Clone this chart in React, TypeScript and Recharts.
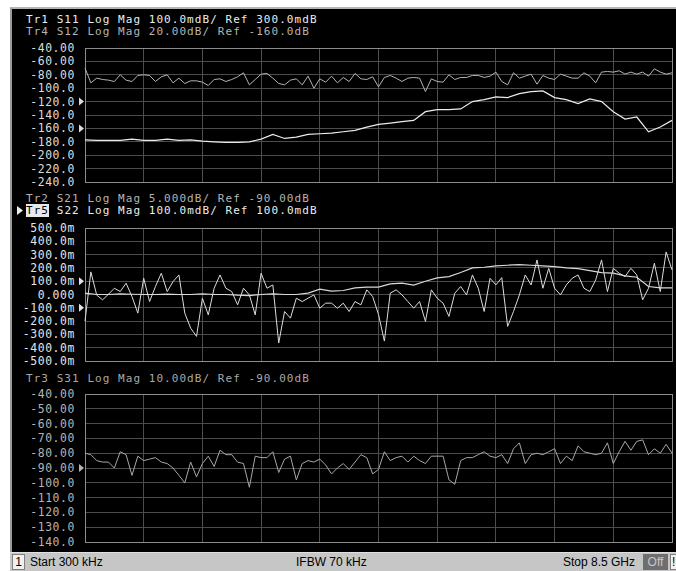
import { CartesianGrid, Line, LineChart, ReferenceArea, XAxis, YAxis } from "recharts";

const MONO = '"DejaVu Sans Mono", monospace';
const SANS = '"Liberation Sans", Arial, sans-serif';

// x axis: sweep points as percent of span (Start 300 kHz .. Stop 8.5 GHz)
const X_TICKS = [0, 10, 20, 30, 40, 50, 60, 70, 80, 90, 100];

// panel 1 (Tr1 S11 / Tr4 S12)
const P1_TICKS = [-40, -60, -80, -100, -120, -140, -160, -180, -200, -220, -240];
const P1_REFS = [-120, -160];
const tr1 = [
  -177, -178, -178, -178, -176, -178, -178, -176, -178, -177,
  -179, -180, -181, -181, -180, -176, -169, -175, -173, -169,
  -168, -167, -165, -163, -158, -154, -152, -150, -148, -135,
  -132, -132, -131, -120, -117, -113, -114, -108, -105, -104,
  -114, -117, -123, -116, -120, -135, -146, -143, -165, -158, -148,
];
const tr4 = [
  -70, -92, -85, -87, -88, -90, -80, -88, -90, -81,
  -80, -81, -90, -83, -80, -92, -85, -93, -89, -89,
  -91, -96, -87, -86, -90, -87, -83, -77, -95, -87,
  -79, -78, -85, -93, -95, -88, -86, -95, -82, -100,
  -86, -91, -82, -92, -84, -90, -78, -86, -87, -83,
  -98, -84, -81, -85, -90, -85, -84, -85, -105, -86,
  -90, -91, -80, -87, -84, -84, -81, -81, -84, -82,
  -76, -90, -95, -77, -85, -82, -79, -94, -81, -85,
  -87, -79, -82, -85, -85, -77, -82, -92, -76, -75,
  -76, -74, -79, -76, -79, -76, -82, -71, -76, -79, -77,
];

// panel 2 (Tr2 S21 / Tr5 S22), values in milli-dB
const P2_TICKS = [500, 400, 300, 200, 100, 0, -100, -200, -300, -400, -500];
const P2_REFS = [100, -100];
const tr2 = [
  10, 0, 0, 5, 2, 0, 0, 3, 0, 0,
  5, 0, 0, -5, -8, 0, 5, 0, 0, 10,
  40, 25, 30, 50, 55, 55, 80, 85, 70, 100,
  125, 135, 165, 200, 205, 215, 220, 225, 220, 215,
  210, 200, 195, 180, 165, 160, 140, 130, 60, 50, 50,
];
const tr5 = [
  -200, 170, -5, -40, 2, 47, 22, 85, -15, -140,
  122, -53, 60, 160, 22, 97, 147, -140, -253, -315,
  -28, -153, 47, 147, 47, 22, -78, 47, -3, -153,
  160, 47, 72, -365, -128, -178, -28, -53, -28, -3,
  -103, -65, -65, -103, -65, -128, -53, -78, 35, -15,
  -150, -350, 10, 35, -3, -53, -103, -53, -203, 35,
  -28, -65, -165, 10, 60, -3, 147, 47, -128, 122,
  72, 127, -240, -128, -3, 147, 72, 260, 47, 197,
  47, -3, 72, 122, 147, 47, 22, 110, 260, 22,
  197, 160, 135, 197, 147, -40, 47, 235, 22, 320, 185,
];

// panel 3 (Tr3 S31)
const P3_TICKS = [-40, -50, -60, -70, -80, -90, -100, -110, -120, -130, -140];
const P3_REFS = [-90];
const tr3 = [
  -80, -81, -85, -86, -86, -90, -79, -81, -95, -82,
  -85, -84, -83, -86, -87, -90, -95, -100, -86, -96,
  -87, -82, -89, -78, -81, -81, -86, -87, -103, -82,
  -83, -83, -79, -93, -84, -82, -98, -87, -85, -86,
  -84, -88, -94, -90, -87, -91, -86, -81, -83, -94,
  -91, -79, -85, -83, -82, -86, -82, -85, -87, -82,
  -82, -82, -98, -101, -85, -83, -83, -81, -79, -82,
  -83, -81, -87, -77, -73, -87, -81, -80, -81, -79,
  -77, -87, -82, -85, -75, -79, -80, -81, -80, -73,
  -87, -79, -72, -78, -72, -71, -81, -77, -80, -74, -80,
];

const toPoints = (vals: number[]) => {
  const step = 100 / (vals.length - 1);
  return vals.map((v, i) => ({ x: i * step, y: v }));
};

const fmtDb = (v: number) => (Math.abs(v) < 100 ? v.toFixed(2) : v.toFixed(1));
const fmtMilli = (v: number) => (v === 0 ? "0.000" : `${v.toFixed(1)}m`);

const makeTick = (fmt: (v: number) => string, color: string, refs: number[]) => (props: any) => {
  const { x, y, payload } = props;
  return (
    <g>
      <text
        x={x}
        y={y}
        dy={4}
        textAnchor="end"
        fill={color}
        fontFamily={MONO}
        fontSize={11.4}
        letterSpacing={0.6}
      >
        {fmt(payload.value)}
      </text>
      {refs.includes(payload.value) && (
        <polygon points={`${x + 4},${y - 4} ${x + 9},${y} ${x + 4},${y + 4}`} fill={color} />
      )}
    </g>
  );
};

interface Trace {
  data: number[];
  color: string;
  width: number;
}

interface PanelProps {
  top: number;
  height: number;
  ticks: number[];
  refs: number[];
  fmt: (v: number) => string;
  labelColor: string;
  traces: Trace[];
}

const Panel = ({ top, height, ticks, refs, fmt, labelColor, traces }: PanelProps) => {
  const lo = Math.min(...ticks);
  const hi = Math.max(...ticks);
  return (
    <div style={{ position: "absolute", left: 0, top, width: 676, height }}>
      <LineChart width={676} height={height} margin={{ top: 10, right: 4, bottom: 10, left: 10 }}>
        <CartesianGrid stroke="#4c4c4c" strokeWidth={1} />
        <XAxis type="number" dataKey="x" domain={[0, 100]} ticks={X_TICKS} interval={0} hide allowDuplicatedCategory={false} />
        <YAxis
          type="number"
          dataKey="y"
          domain={[lo, hi]}
          ticks={ticks}
          interval={0}
          width={75}
          tickSize={0}
          tickMargin={10}
          axisLine={false}
          tickLine={false}
          tick={makeTick(fmt, labelColor, refs)}
        />
        <ReferenceArea x1={0} x2={100} y1={lo} y2={hi} fill="none" stroke="#8c8c8c" strokeWidth={1} />
        {traces.map((t, i) => (
          <Line
            key={i}
            data={toPoints(t.data)}
            dataKey="y"
            type="linear"
            stroke={t.color}
            strokeWidth={t.width}
            dot={false}
            isAnimationActive={false}
          />
        ))}
      </LineChart>
    </div>
  );
};

const headerStyle = {
  position: "absolute" as const,
  left: 26,
  fontFamily: MONO,
  fontSize: 11,
  letterSpacing: "1.05px",
  lineHeight: "12px",
  whiteSpace: "pre" as const,
};

const Header = ({ top, color, text }: { top: number; color: string; text: string }) => (
  <div style={{ ...headerStyle, top, color }}>{text}</div>
);

export default function App() {
  return (
    <div style={{ position: "absolute", left: 0, top: 0, width: 676, height: 571, background: "#ffffff", overflow: "hidden" }}>
      <style>{".recharts-cartesian-grid line, .recharts-reference-area-rect { shape-rendering: crispEdges; }"}</style>
      <div
        style={{
          position: "absolute",
          left: 10,
          top: 7,
          width: 666,
          height: 545,
          background: "#000000",
          borderTop: "2px solid #b4b4b4",
          borderLeft: "2px solid #9a9a9a",
          boxSizing: "border-box",
        }}
      />
      <Header top={14} color="#ececec" text="Tr1 S11 Log Mag 100.0mdB/ Ref 300.0mdB" />
      <Header top={26} color="#b4b4b4" text="Tr4 S12 Log Mag 20.00dB/ Ref -160.0dB" />
      <Panel
        top={38}
        height={154}
        ticks={P1_TICKS}
        refs={P1_REFS}
        fmt={fmtDb}
        labelColor="#dcdcdc"
        traces={[
          { data: tr4, color: "#b4b4b4", width: 1 },
          { data: tr1, color: "#ececec", width: 1.2 },
        ]}
      />
      <Header top={193} color="#b4b4b4" text="Tr2 S21 Log Mag 5.000dB/ Ref -90.00dB" />
      <div style={{ ...headerStyle, top: 205 }}>
        <span style={{ background: "#e8e8e8", color: "#000000" }}>Tr5</span>
        <span style={{ color: "#ececec" }}> S22 Log Mag 100.0mdB/ Ref 100.0mdB</span>
      </div>
      <svg style={{ position: "absolute", left: 16, top: 205 }} width={8} height={11}>
        <polygon points="1,1 7,5.5 1,10" fill="#ececec" />
      </svg>
      <Panel
        top={218}
        height={153}
        ticks={P2_TICKS}
        refs={P2_REFS}
        fmt={fmtMilli}
        labelColor="#e4e4e4"
        traces={[
          { data: tr2, color: "#d8d8d8", width: 1.2 },
          { data: tr5, color: "#dcdcdc", width: 1 },
        ]}
      />
      <Header top={373} color="#a8a8a8" text="Tr3 S31 Log Mag 10.00dB/ Ref -90.00dB" />
      <Panel
        top={384}
        height={168}
        ticks={P3_TICKS}
        refs={P3_REFS}
        fmt={fmtDb}
        labelColor="#b4b4b4"
        traces={[{ data: tr3, color: "#a8a8a8", width: 1 }]}
      />
      <div
        style={{
          position: "absolute",
          left: 10,
          top: 552,
          width: 666,
          height: 19,
          background: "#c6c6c6",
          borderTop: "1px solid #e0e0e0",
          boxSizing: "border-box",
          fontFamily: SANS,
          fontSize: 12,
          color: "#000000",
        }}
      >
        <div
          style={{
            position: "absolute",
            left: 2,
            top: 1,
            width: 13,
            height: 16,
            background: "#f0f0f0",
            border: "1px solid #808080",
            boxSizing: "border-box",
            textAlign: "center",
            lineHeight: "14px",
          }}
        >
          1
        </div>
        <span style={{ position: "absolute", left: 20, top: 2 }}>Start 300 kHz</span>
        <span style={{ position: "absolute", left: 286, top: 2 }}>IFBW 70 kHz</span>
        <span style={{ position: "absolute", left: 553, top: 2 }}>Stop 8.5 GHz</span>
        <div
          style={{
            position: "absolute",
            left: 633,
            top: 1,
            width: 25,
            height: 16,
            background: "#6e6e6e",
            color: "#c8c8c8",
            textAlign: "center",
            lineHeight: "16px",
          }}
        >
          Off
        </div>
        <div
          style={{
            position: "absolute",
            left: 660,
            top: 1,
            width: 10,
            height: 16,
            background: "#f0f0f0",
            border: "1px solid #808080",
            boxSizing: "border-box",
            lineHeight: "14px",
            paddingLeft: 1,
          }}
        >
          !
        </div>
      </div>
    </div>
  );
}
